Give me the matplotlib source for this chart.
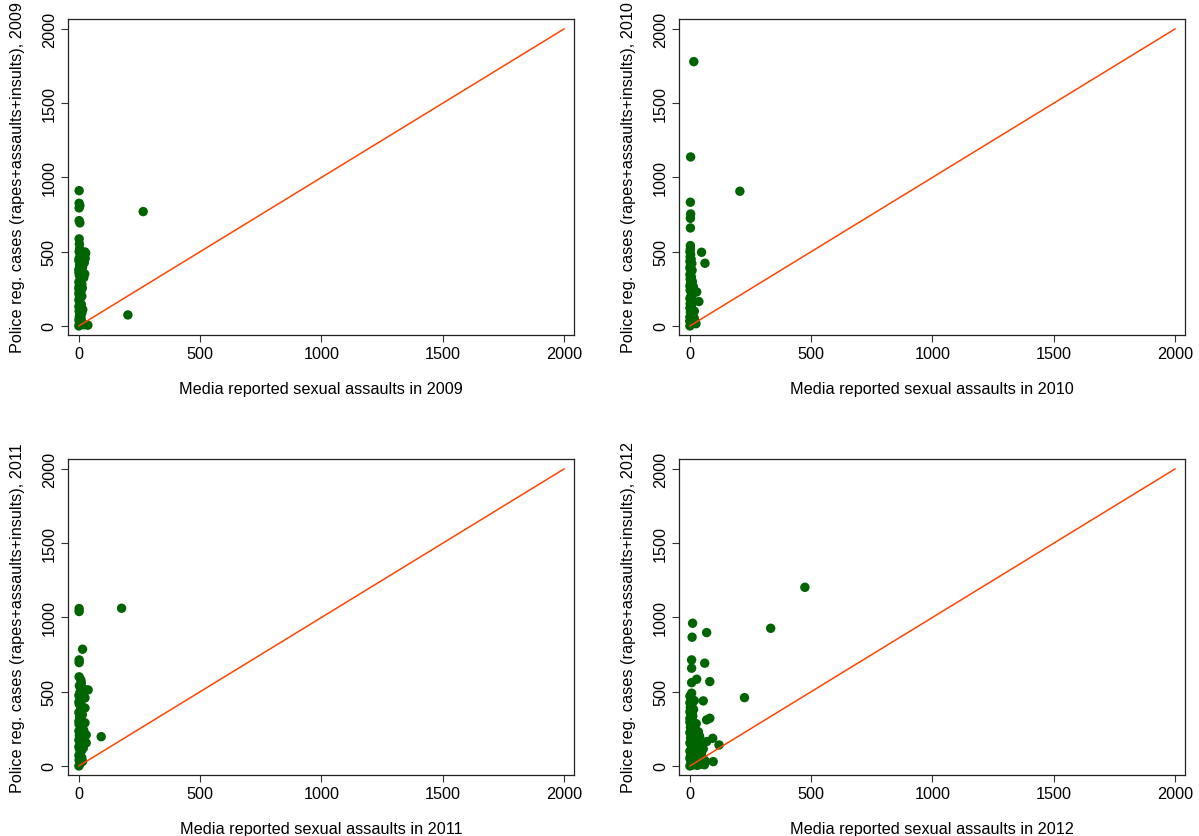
import matplotlib.pyplot as plt

plt.rcParams["font.family"] = ["Liberation Sans", "DejaVu Sans"]

years = [2009, 2010, 2011, 2012]

# media reported sexual assaults (x) and police registered cases (y)
media_2009 = [1, 1, 4, 1, 1, 4, 1, 2, 265, 202, 25, 17, 37,
              0, 2, 5, 0, 8, 3, 12, 1, 6, 0, 10, 3, 0, 7, 2, 0, 9, 4, 1, 12, 0, 5,
              20, 2, 24, 8, 0, 15, 3, 22, 0, 26, 6, 12, 28, 1, 14, 20, 10, 16, 12,
              14, 3, 1, 0, 4, 2, 18, 7, 0]
police_2009 = [911, 826, 810, 795, 709, 694, 586, 552, 770, 74, 498, 330, 5,
               0, 12, 25, 40, 55, 70, 85, 100, 115, 130, 145, 160, 175, 190, 205, 220, 235, 250, 265, 280, 295, 310,
               325, 340, 350, 365, 380, 395, 410, 425, 440, 455, 470, 480, 490, 500, 20, 8, 38, 110, 200,
               255, 520, 455, 360, 130, 60, 470, 420, 250]

media_2010 = [16, 3, 206, 2, 3, 2, 2, 2, 48, 62, 28, 37,
              0, 3, 8, 1, 12, 0, 5, 2, 10, 0, 6, 1, 9, 0, 4, 12, 1, 7, 0, 3, 10, 1,
              6, 0, 4, 9, 0, 2, 8, 0, 5, 1, 3, 0, 20, 25, 18, 14, 2, 6, 0, 16]
police_2010 = [1780, 1138, 907, 833, 754, 725, 660, 541, 496, 422, 229, 164,
               0, 10, 22, 35, 45, 60, 75, 90, 105, 120, 135, 150, 170, 185, 200, 215, 240, 255, 270, 285, 300, 315,
               330, 345, 360, 375, 390, 405, 420, 435, 450, 465, 480, 500, 40, 15, 100, 265, 520, 180, 30, 60]

media_2011 = [1, 1, 176, 15, 1, 1, 1, 8, 38, 25, 25, 25, 30, 30, 92,
              0, 3, 8, 1, 12, 0, 5, 10, 2, 0, 14, 4, 0, 9, 2, 15, 0, 6, 12, 1, 0, 8, 3,
              14, 0, 6, 12, 2, 0, 10, 4, 0, 14, 5, 18, 2, 15, 18, 20, 10]
police_2011 = [1060, 1040, 1062, 786, 714, 696, 600, 579, 512, 458, 390, 290, 209, 155, 197,
               0, 12, 25, 40, 55, 70, 85, 100, 115, 130, 145, 160, 175, 190, 205, 220, 235, 250, 265, 280, 300, 315, 330,
               345, 360, 375, 400, 415, 430, 445, 460, 475, 490, 500, 520, 540, 30, 120, 240, 560]

media_2012 = [474, 333, 11, 69, 9, 7, 61, 7, 28, 82, 7, 7, 225, 55, 82, 69, 94, 69, 120, 96, 35,
              0, 10, 20, 30, 40, 50, 60, 5, 15, 25, 45, 0, 55, 65,
              2, 12, 22, 35, 48, 0, 8, 18, 30, 42, 55, 5, 25,
              0, 10, 20, 32, 3, 15, 28, 0, 8, 22, 35, 2, 14, 26, 0, 40,
              5, 0, 12, 3, 0, 15, 2, 8, 0, 18, 4, 0, 10]
police_2012 = [1203, 927, 961, 898, 867, 714, 692, 658, 584, 568, 561, 490, 460, 438, 321, 310, 186, 164, 141, 29, 20,
               0, 5, 12, 4, 10, 20, 8, 25, 35, 45, 35, 50, 50, 30,
               65, 75, 85, 70, 90, 100, 110, 120, 105, 130, 115, 140, 145,
               155, 165, 175, 160, 190, 200, 210, 225, 235, 245, 230, 260, 270, 285, 295, 200,
               305, 320, 335, 350, 365, 380, 395, 410, 425, 440, 455, 470, 355]

media = [media_2009, media_2010, media_2011, media_2012]
police = [police_2009, police_2010, police_2011, police_2012]

diag = [0, 2000]
ticks = [0, 500, 1000, 1500, 2000]

fig = plt.figure(figsize=(11.99, 8.37), dpi=100)

lefts = [0.0567, 0.5663, 0.0567, 0.5663]
bottoms = [0.5986, 0.5986, 0.0729, 0.0729]

for i, yr in enumerate(years):
    ax = fig.add_axes([lefts[i], bottoms[i], 0.4220, 0.3775])
    ax.scatter(media[i], police[i], s=46, color="#006400", edgecolors="none", zorder=2)
    ax.plot(diag, diag, color="#FF4500", lw=1.1, zorder=3)
    ax.set_xlim(-45, 2041)
    ax.set_ylim(-61, 2067)
    ax.set_xticks(ticks)
    ax.set_yticks(ticks)
    ax.tick_params(length=5, width=0.8, color="#333333", labelsize=11.7, pad=3)
    plt.setp(ax.get_yticklabels(), rotation=90, va="center")
    for sp in ax.spines.values():
        sp.set_linewidth(0.9)
        sp.set_color("#222222")
    ax.set_xlabel("Media reported sexual assaults in %d" % yr, fontsize=11.7, labelpad=14)
    ax.set_ylabel("Police reg. cases (rapes+assaults+insults), %d" % yr, fontsize=11.7, labelpad=12)

fig.savefig("out.png", dpi=100)
